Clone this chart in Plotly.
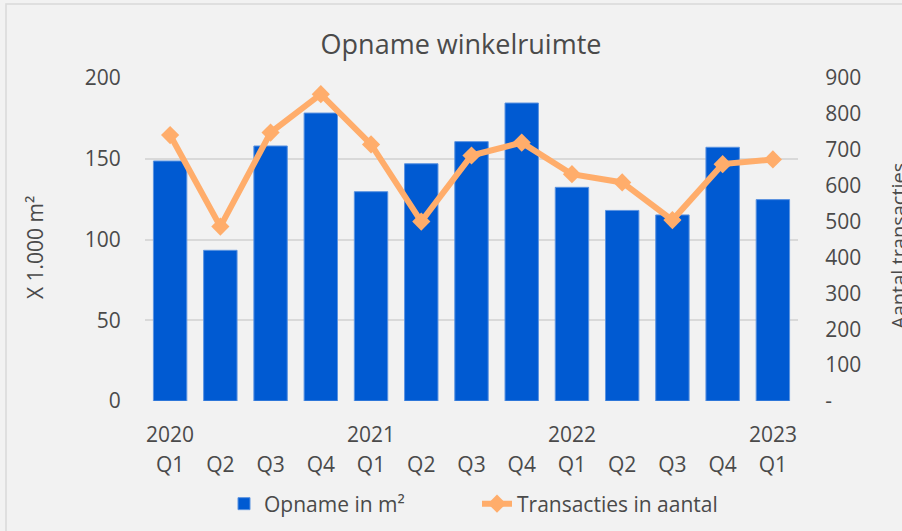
import plotly.graph_objects as go

# ---- data ----
quarters = ["Q1", "Q2", "Q3", "Q4", "Q1", "Q2", "Q3", "Q4", "Q1", "Q2", "Q3", "Q4", "Q1"]
years = ["2020", "", "", "", "2021", "", "", "", "2022", "", "", "", "2023"]
opname = [148.6, 93.3, 157.9, 178.3, 129.6, 146.9, 160.6, 184.5, 132.3, 118.0, 115.2, 157.1, 124.7]
transacties = [741, 486, 748, 855, 715, 500, 684, 720, 632, 609, 504, 660, 673]
left_ticks = [0, 50, 100, 150, 200]
right_ticks = [0, 100, 200, 300, 400, 500, 600, 700, 800, 900]
right_ticktext = ["-", "100", "200", "300", "400", "500", "600", "700", "800", "900"]

xpos = list(range(len(quarters)))

FONT = "Open Sans, Segoe UI, sans-serif"
TXT = "#4a4a4a"
BG = "#f2f2f2"
GRID = "#d9d9d9"

# plot area in pixels
W, H = 902, 531
L, R, T, B = 145, 798, 78, 401

fig = go.Figure()
fig.add_trace(go.Bar(
    x=xpos, y=opname, name="Opname in m²",
    marker=dict(color="#005ad2", line=dict(color="#5b93e0", width=1)),
    yaxis="y",
))
fig.add_trace(go.Scatter(
    x=xpos, y=transacties, name="Transacties in aantal",
    mode="lines+markers",
    line=dict(color="#ffad6b", width=6),
    marker=dict(symbol="diamond", size=14, color="#ffad6b"),
    yaxis="y2",
))

annotations = []
for xi, yr in zip(xpos, years):
    if yr:
        annotations.append(dict(
            x=xi, y=0, xref="x", yref="paper", text=yr, showarrow=False,
            yanchor="top", yshift=-17, font=dict(family=FONT, size=21, color=TXT),
        ))

pw = R - L
ph = B - T
def px_x(p):
    return (p - L) / pw
def px_y(p):
    return (B - p) / ph

annotations.append(dict(
    x=px_x(35), y=px_y(248), xref="paper", yref="paper", text="X 1.000 m²",
    textangle=-90, showarrow=False, xanchor="center", yanchor="middle",
    font=dict(family=FONT, size=21, color=TXT),
))
annotations.append(dict(
    x=px_x(898), y=px_y(246), xref="paper", yref="paper", text="Aantal transacties",
    textangle=-90, showarrow=False, xanchor="center", yanchor="middle",
    font=dict(family=FONT, size=20, color=TXT),
))

fig.update_layout(
    width=W, height=H,
    paper_bgcolor=BG, plot_bgcolor=BG,
    margin=dict(l=L, r=W - R, t=T, b=H - B, pad=0, autoexpand=False),
    font=dict(family=FONT, size=21, color=TXT),
    title=dict(text="Opname winkelruimte", x=461 / W, xanchor="center",
               y=1 - 45 / H, yanchor="middle",
               font=dict(family=FONT, size=27, color=TXT)),
    bargap=0.335,
    showlegend=True,
    legend=dict(orientation="h", x=px_x(224), xanchor="left", y=px_y(504), yanchor="middle",
                font=dict(family=FONT, size=21, color=TXT), bgcolor="rgba(0,0,0,0)",
                entrywidth=208, entrywidthmode="pixels"),
    xaxis=dict(
        tickvals=xpos, ticktext=quarters, range=[-0.5, len(xpos) - 0.5],
        showgrid=False, zeroline=False, showline=False,
        ticks="outside", ticklen=45, tickcolor="rgba(0,0,0,0)",
        tickfont=dict(family=FONT, size=21, color=TXT),
    ),
    yaxis=dict(
        range=[0, 200], tickvals=left_ticks,
        showgrid=True, gridcolor=GRID, gridwidth=1.5, zeroline=False, showline=False,
        ticks="outside", ticklen=19, tickcolor="rgba(0,0,0,0)",
        tickfont=dict(family=FONT, size=21, color=TXT),
    ),
    yaxis2=dict(
        range=[0, 900], tickvals=right_ticks, ticktext=right_ticktext,
        overlaying="y", side="right", showgrid=False, zeroline=False, showline=False,
        ticks="outside", ticklen=22, tickcolor="rgba(0,0,0,0)",
        tickfont=dict(family=FONT, size=21, color=TXT),
    ),
    annotations=annotations,
    shapes=[dict(type="rect", xref="paper", yref="paper",
                 x0=px_x(6), x1=px_x(910), y0=px_y(540), y1=px_y(4),
                 line=dict(color="#d9d9d9", width=1.5), fillcolor="rgba(0,0,0,0)", layer="below")],
)

fig.write_html("out.html", config={"displayModeBar": False},
               post_script="document.body.style.margin='0';document.body.style.padding='0';")
